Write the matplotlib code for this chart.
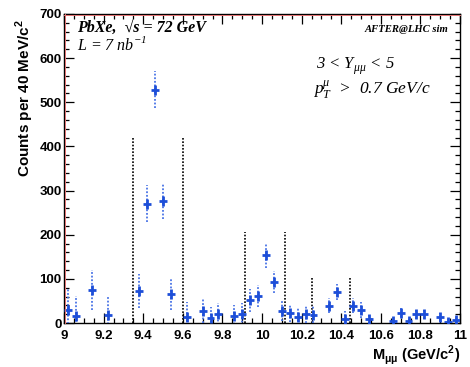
import numpy as np
import matplotlib
matplotlib.use("Agg")
import matplotlib.pyplot as plt
from matplotlib.ticker import MultipleLocator

# dimuon mass spectrum, 40 MeV bins from 9 to 11 GeV (NaN = not visible)
mass_lo = 9.0
bin_w = 0.04
counts = [30, 16, np.nan, 75, np.nan, 17, np.nan, np.nan, np.nan, 73,
          270, 528, 276, 65, np.nan, 14, np.nan, 28, 11, 20,
          np.nan, 15, 20, 51, 61, 153, 92, 28, 22, 14,
          20, 19, np.nan, 39, 70, 10, 39, 30, 8, np.nan,
          np.nan, 5, 23, 4, 20, 20, np.nan, 13, 3, 7]
errors = [48, 46, 0, 45, 0, 44, 0, 0, 0, 38,
          42, 42, 40, 36, 0, 34, 0, 27, 26, 25,
          0, 26, 26, 26, 25, 28, 25, 24, 19, 19,
          21, 20, 0, 17, 19, 18, 17, 18, 10, 0,
          0, 8, 10, 7, 11, 11, 0, 9, 6, 6]

# mass windows (dotted lines) and their heights
win_x = [9.35, 9.60, 9.915, 10.115, 10.255, 10.445]
win_h = [420, 420, 207, 207, 104, 104]

serif = "Liberation Serif"
sans = "Liberation Sans"
blue = "#1d4ed8"
eblue = "#4a74e6"

fig = plt.figure(figsize=(4.7, 3.67), dpi=100)
ax = fig.add_axes([64 / 470, 1 - 323 / 367, 396 / 470, 309 / 367])

centers = mass_lo + bin_w * (np.arange(len(counts)) + 0.5)
counts = np.array(counts, dtype=float)
errors = np.array(errors, dtype=float)
ok = ~np.isnan(counts)

# windows
ax.vlines(win_x, 0, win_h, colors="black", linestyles=(0, (1, 1)), lw=1.2, zorder=2)

# dotted vertical errors
eb = ax.errorbar(centers[ok], counts[ok], yerr=errors[ok], fmt="none",
                 ecolor=eblue, elinewidth=1.3, capsize=0, zorder=3)
eb.lines[2][0].set_linestyle((0, (1, 1)))
# crosses
ax.errorbar(centers[ok], counts[ok], xerr=bin_w / 2, fmt="|", color=blue,
            ms=7, mew=2, elinewidth=2, capsize=0, zorder=4)

ax.set_xlim(9, 11)
ax.set_ylim(0, 700)
ax.xaxis.set_major_locator(MultipleLocator(0.2))
ax.xaxis.set_minor_locator(MultipleLocator(0.05))
ax.yaxis.set_major_locator(MultipleLocator(100))
ax.yaxis.set_minor_locator(MultipleLocator(20))
ax.tick_params(which="both", direction="in", top=True, right=True, width=0.9)
ax.tick_params(which="major", length=7)
ax.tick_params(axis="x", which="major", pad=5)
ax.tick_params(axis="y", which="major", pad=1.8)
ax.tick_params(which="minor", length=3.5)
ax.xaxis.set_major_formatter(plt.FuncFormatter(lambda v, p: f"{v:g}"))
for lab in ax.get_xticklabels() + ax.get_yticklabels():
    lab.set_fontfamily(sans)
    lab.set_fontweight("bold")
    lab.set_fontsize(9.5)
for s in ax.spines.values():
    s.set_linewidth(1.0)

# faint red inner frame lines, as in the reference
ax.plot([9.003, 9.003], [0, 700], color="#e07070", lw=0.7, zorder=5, clip_on=False)
ax.plot([9, 11], [697, 697], color="#e07070", lw=0.7, zorder=5, clip_on=False)

fig.text(25 / 470, 1 - 19 / 367, "Counts per 40 MeV/c$^\\mathregular{2}$",
         rotation=90, ha="center", va="top", fontfamily=sans,
         fontweight="bold", fontsize=11)
fig.text(460 / 470, 1 - 355 / 367, "M$_\\mathregular{μμ}$ (GeV/c$^\\mathregular{2}$)",
         ha="right", va="center", fontfamily=sans, fontweight="bold", fontsize=10.5)

fig.text(77 / 470, 1 - 28 / 367, "PbXe,  √s = 72 GeV", ha="left", va="center",
         fontfamily=serif, fontweight="bold", style="italic", fontsize=11.5)
fig.text(77 / 470, 1 - 45 / 367, "L = 7 nb$^\\mathregular{-1}$", ha="left", va="center",
         fontfamily=serif, style="italic", fontsize=11.5)
fig.text(448 / 470, 1 - 30 / 367, "AFTER@LHC sim", ha="right", va="center",
         fontfamily=serif, fontweight="bold", style="italic", fontsize=7.7)
fig.text(316 / 470, 1 - 66 / 367, "3 < Y$_\\mathregular{μμ}$ < 5", ha="left", va="center",
         fontfamily=serif, style="italic", fontsize=12)
fig.text(313 / 470, 1 - 90 / 367, "p$^\\mathregular{μ}_\\mathregular{T}$  >  0.7 GeV/c",
         ha="left", va="center", fontfamily=serif, style="italic", fontsize=12.5)

fig.savefig("out.png", dpi=100)
